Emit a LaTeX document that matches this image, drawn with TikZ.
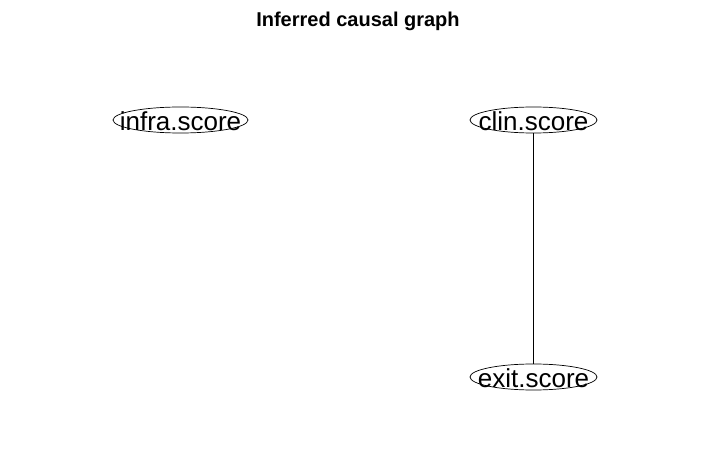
\documentclass[tikz,border=0pt]{standalone}
\usepackage{fontspec}
\setmainfont{Liberation Sans}
\usetikzlibrary{shapes.geometric}
\tikzset{
  vert/.style={ellipse, draw=black, line width=0.7pt, inner sep=0pt, minimum height=26pt},
  lab/.style={font=\fontsize{26}{28}\selectfont, inner sep=0pt, text=black},
  edge/.style={draw=black, line width=0.7pt}
}
\begin{document}
\begin{tikzpicture}[x=1pt,y=1pt]
\useasboundingbox[fill=white] (0,0) rectangle (705,-465);
\node[font=\bfseries\fontsize{20}{22}\selectfont, inner sep=0pt] (title) at (358,-21) {Inferred causal graph};
\node[vert, minimum width=135pt] (infra) at (180.5,-120) {};
\node[vert, minimum width=127pt] (clin) at (533.5,-120) {};
\node[vert, minimum width=127pt] (exit) at (533.5,-377) {};
\node[lab] (infraT) at ([yshift=-1pt]infra.center) {infra.score};
\node[lab] (clinT) at ([yshift=-1pt]clin.center) {clin.score};
\node[lab] (exitT) at ([yshift=-1pt]exit.center) {exit.score};
\draw[edge] (clin) -- (exit);
\end{tikzpicture}
\end{document}
